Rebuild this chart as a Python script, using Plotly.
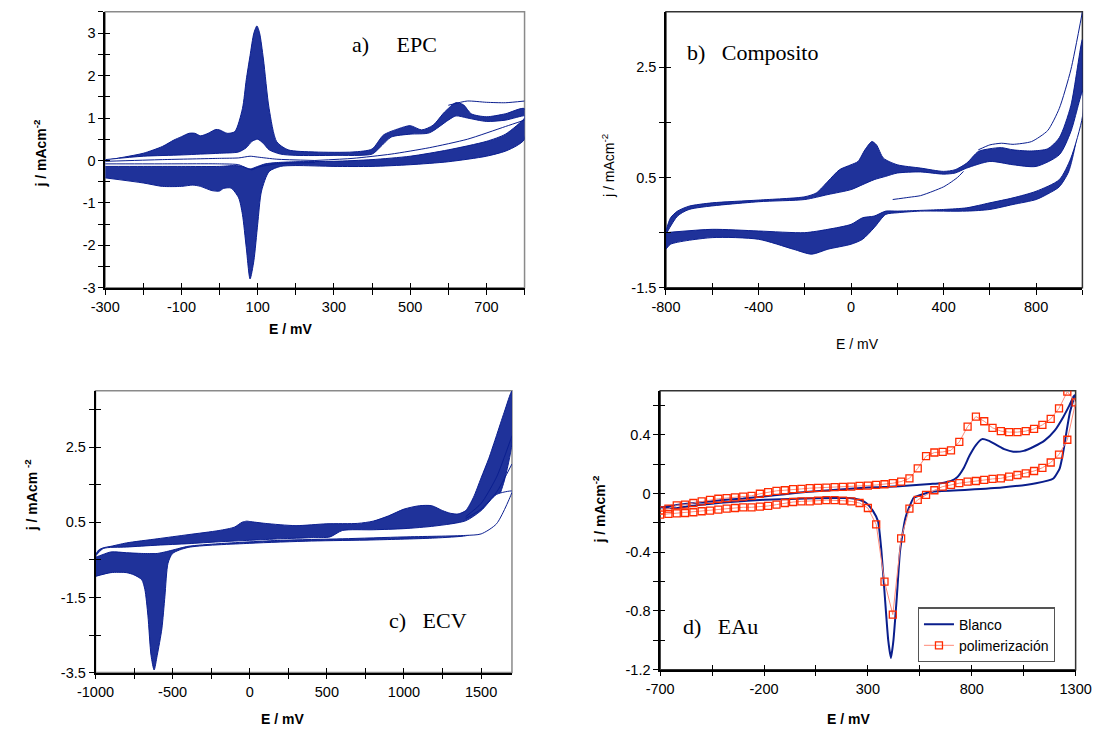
import plotly.graph_objects as go

W, H = 1111, 736
BLUE = '#0B1F8F'
BAND = 'rgba(14,34,146,0.93)'

# ---------------- Panel a (EPC) ----------------
a_out_fwd_E = [-300, -250, -200, -150, -120, -100, -80, -65, -50, -30, -10, 0, 20, 40, 60, 70, 80, 90, 98, 105, 115, 130, 150, 180, 250, 350, 400, 430, 470, 500, 530, 560, 590, 620, 640, 660, 700, 750, 800]
a_out_fwd_j = [0.0, 0.08, 0.17, 0.33, 0.48, 0.56, 0.64, 0.64, 0.58, 0.64, 0.73, 0.72, 0.64, 0.68, 1.22, 1.9, 2.47, 3.0, 3.17, 3.0, 2.39, 1.22, 0.44, 0.25, 0.2, 0.2, 0.27, 0.6, 0.75, 0.82, 0.72, 0.83, 1.14, 1.36, 1.31, 1.1, 1.03, 1.1, 1.22]
a_out_rev_E = [800, 780, 750, 700, 600, 500, 400, 300, 200, 160, 130, 110, 100, 90, 80, 70, 60, 50, 30, 10, 0, -20, -50, -70, -100, -150, -200, -300]
a_out_rev_j = [0.5, 0.35, 0.22, 0.1, -0.03, -0.1, -0.14, -0.14, -0.12, -0.14, -0.26, -0.72, -1.5, -2.36, -2.79, -2.05, -1.27, -0.88, -0.65, -0.66, -0.72, -0.71, -0.61, -0.58, -0.61, -0.61, -0.53, -0.41]
a_in_fwd_E = [-300, -200, -100, -50, 0, 50, 70, 85, 100, 115, 130, 160, 200, 300, 400, 420, 450, 500, 550, 600, 620, 650, 700, 750, 800]
a_in_fwd_j = [0.02, 0.1, 0.13, 0.15, 0.17, 0.2, 0.3, 0.45, 0.5, 0.4, 0.25, 0.15, 0.12, 0.12, 0.15, 0.3, 0.55, 0.62, 0.65, 0.95, 1.05, 1.0, 0.92, 0.95, 1.05]
a_in_rev_E = [800, 750, 700, 600, 500, 400, 300, 200, 150, 120, 100, 80, 60, 40, 0, -100, -200, -300]
a_in_rev_j = [1.0, 0.62, 0.45, 0.25, 0.1, 0.02, -0.02, -0.03, -0.05, -0.08, -0.14, -0.2, -0.14, -0.12, -0.14, -0.14, -0.14, -0.14]
a_first_E = [250, 350, 450, 550, 650, 750, 800]
a_first_j = [0.0, 0.05, 0.15, 0.3, 0.5, 0.8, 0.95]
a_top_E = [600, 650, 700, 750, 800]
a_top_j = [1.3, 1.4, 1.37, 1.36, 1.4]
a_c1_E = [-300, -150, 0, 50, 80, 100, 150, 250]
a_c1_j = [-0.02, 0.02, 0.05, 0.06, 0.1, 0.08, 0.03, 0.0]
a_c2_E = [-300, -150, 0, 50, 70, 85, 100, 150, 250]
a_c2_j = [-0.08, -0.08, -0.08, -0.1, -0.18, -0.22, -0.16, -0.08, -0.05]

# ---------------- Panel b (Composito) ----------------
b_out_fwd_E = [-800, -780, -750, -700, -600, -400, -200, -150, -100, -50, 0, 30, 60, 90, 110, 140, 200, 300, 400, 450, 500, 550, 600, 650, 700, 780, 850, 900, 950, 1000]
b_out_fwd_j = [-0.47, -0.23, -0.11, -0.02, 0.04, 0.09, 0.15, 0.22, 0.43, 0.64, 0.73, 0.79, 1.0, 1.15, 1.09, 0.85, 0.73, 0.67, 0.61, 0.64, 0.76, 0.97, 1.02, 1.04, 1.0, 0.98, 1.02, 1.22, 1.8, 3.0]
b_out_rev_E = [1000, 990, 970, 940, 900, 850, 800, 700, 600, 500, 300, 200, 150, 100, 50, 0, -100, -170, -250, -400, -600, -780, -800]
b_out_rev_j = [2.0, 1.75, 1.1, 0.6, 0.33, 0.2, 0.1, 0.01, -0.08, -0.11, -0.11, -0.14, -0.17, -0.41, -0.62, -0.71, -0.8, -0.89, -0.8, -0.62, -0.59, -0.71, -0.8]
b_in_fwd_E = [-800, -750, -700, -400, -200, -100, 0, 50, 100, 150, 200, 300, 400, 450, 500, 600, 700, 800, 900, 950, 1000]
b_in_fwd_j = [-0.53, -0.2, -0.08, 0.06, 0.1, 0.19, 0.28, 0.37, 0.46, 0.52, 0.58, 0.6, 0.56, 0.58, 0.67, 0.79, 0.73, 0.7, 0.91, 1.33, 2.05]
b_in_rev_E = [1000, 950, 900, 800, 700, 600, 500, 400, 200, 150, 100, 50, 0, -100, -200, -400, -600, -800]
b_in_rev_j = [1.6, 0.85, 0.46, 0.25, 0.13, 0.04, -0.05, -0.08, -0.11, -0.11, -0.2, -0.23, -0.35, -0.44, -0.5, -0.47, -0.44, -0.5]
b_top_E = [550, 600, 650, 700, 780, 850, 900, 950, 1000]
b_top_j = [1.0, 1.09, 1.12, 1.1, 1.15, 1.35, 1.75, 2.45, 3.5]
b_first_E = [180, 250, 300, 354, 400, 427, 460, 486]
b_first_j = [0.1, 0.14, 0.17, 0.25, 0.33, 0.4, 0.5, 0.61]

# ---------------- Panel c (ECV) ----------------
c_out_fwd_E = [-1000, -980, -950, -900, -800, -600, -400, -200, -100, -50, -20, 0, 100, 300, 500, 700, 800, 900, 1000, 1100, 1180, 1250, 1300, 1350, 1400, 1450, 1500, 1550, 1600, 1650, 1700]
c_out_fwd_j = [-0.37, -0.24, -0.18, -0.14, -0.05, 0.06, 0.17, 0.28, 0.37, 0.5, 0.53, 0.52, 0.47, 0.41, 0.46, 0.47, 0.53, 0.67, 0.85, 0.94, 0.94, 0.81, 0.74, 0.72, 0.81, 1.16, 1.68, 2.2, 2.81, 3.43, 3.99]
c_out_rev_E = [1700, 1650, 1600, 1550, 1500, 1450, 1400, 1200, 800, 400, 0, -400, -500, -530, -550, -570, -600, -620, -640, -660, -680, -700, -750, -800, -900, -1000]
c_out_rev_j = [2.6, 1.6, 1.0, 0.6, 0.35, 0.2, 0.14, 0.08, 0.03, 0.0, -0.06, -0.17, -0.33, -0.59, -1.47, -2.34, -3.04, -3.43, -3.04, -1.99, -1.29, -1.03, -0.9, -0.84, -0.84, -0.94]
c_in_fwd_E = [-1000, -950, -800, -600, -400, -200, 0, 200, 400, 520, 600, 800, 1000, 1200, 1400, 1500, 1600, 1700]
c_in_fwd_j = [-0.42, -0.2, -0.16, -0.11, -0.07, -0.02, 0.02, 0.06, 0.09, 0.11, 0.28, 0.3, 0.33, 0.4, 0.54, 0.81, 1.24, 1.33]
c_in_rev_E = [1700, 1600, 1500, 1400, 1000, 600, 200, -200, -400, -500, -550, -600, -700, -800, -900, -1000]
c_in_rev_j = [1.3, 0.46, 0.19, 0.15, 0.11, 0.06, 0.02, -0.07, -0.14, -0.24, -0.29, -0.33, -0.33, -0.31, -0.29, -0.42]
c_fan_E = [1400, 1500, 1600, 1700]
c_fan1_j = [0.6, 0.85, 1.3, 2.05]
c_fan2_j = [0.65, 1.0, 1.7, 2.8]

# ---------------- Panel d (EAu) ----------------
d_bl_E = [-700, -600, -500, -400, -300, -200, -100, 0, 100, 200, 300, 400, 500, 600, 650, 700, 730, 760, 790, 820, 850, 880, 920, 960, 1000, 1050, 1100, 1150, 1200, 1240, 1270, 1290, 1295,
          1272, 1256, 1240, 1223, 1191, 1109, 945, 782, 619, 553, 520, 504, 480, 455, 439, 423, 411, 398, 382, 365, 349, 325, 292, 259, 210, 128, -35, -198, -362, -525, -623, -700]
d_bl_j = [-0.095, -0.075, -0.06, -0.045, -0.035, -0.02, -0.005, 0.01, 0.02, 0.03, 0.04, 0.045, 0.055, 0.065, 0.07, 0.085, 0.11, 0.17, 0.26, 0.33, 0.37, 0.36, 0.33, 0.3, 0.285, 0.29, 0.32, 0.36, 0.43, 0.52, 0.6, 0.66, 0.67,
          0.55, 0.42, 0.28, 0.17, 0.1, 0.07, 0.04, 0.025, 0.013, -0.01, -0.03, -0.076, -0.17, -0.39, -0.71, -1.0, -1.12, -1.0, -0.71, -0.39, -0.19, -0.12, -0.065, -0.043, -0.031, -0.031, -0.036, -0.043, -0.058, -0.08, -0.1, -0.094]
d_pol_fwd_E = list(range(-700, 1301, 40))
d_pol_fwd_j = [-0.115, -0.103, -0.081, -0.076, -0.065, -0.054, -0.043, -0.036, -0.031, -0.027, -0.022, -0.016, -0.002, 0.009, 0.018, 0.022, 0.029, 0.031, 0.036, 0.038,
               0.040, 0.043, 0.045, 0.047, 0.052, 0.054, 0.058, 0.063, 0.07, 0.081, 0.103, 0.171, 0.254, 0.279, 0.283, 0.294, 0.351, 0.456, 0.524, 0.492,
               0.447, 0.425, 0.418, 0.418, 0.425, 0.44, 0.467, 0.508, 0.58, 0.694, 0.62]
d_pol_rev_E = list(range(1260, -701, -40))
d_pol_rev_j = [0.366, 0.265, 0.211, 0.175, 0.153, 0.137, 0.126, 0.115, 0.103, 0.099, 0.092, 0.085, 0.081, 0.07, 0.058, 0.047, 0.022, -0.009, -0.043, -0.103,
               -0.306, -0.825, -0.6, -0.211, -0.099, -0.065, -0.054, -0.049, -0.045, -0.045, -0.049, -0.054, -0.054, -0.058, -0.065, -0.076, -0.085, -0.09, -0.094, -0.094,
               -0.099, -0.103, -0.11, -0.117, -0.121, -0.128, -0.133, -0.135, -0.139, -0.144]

# tick positions and labelled ticks
a_xticks = list(range(-300, 801, 100));  a_xlabels = [-300, -100, 100, 300, 500, 700]
a_yticks = [-3 + 0.5 * i for i in range(14)];  a_ylabels = [-3, -2, -1, 0, 1, 2, 3]
b_xticks = list(range(-800, 1001, 200));  b_xlabels = [-800, -400, 0, 400, 800]
b_yticks = [-1.5, -0.5, 0.5, 1.5, 2.5];  b_ylabels = [-1.5, 0.5, 2.5]
c_xticks = list(range(-1000, 1701, 250));  c_xlabels = [-1000, -500, 0, 500, 1000, 1500]
c_yticks = [-3.5 + i for i in range(8)];  c_ylabels = [-3.5, -1.5, 0.5, 2.5]
d_xticks = list(range(-700, 1301, 250));  d_xlabels = [-700, -200, 300, 800, 1300]
d_yticks = [round(-1.2 + 0.2 * i, 1) for i in range(10)];  d_ylabels = [-1.2, -0.8, -0.4, 0, 0.4]

# ---------------- layout boxes (px) ----------------
boxes = {
    1: dict(x0=89, x1=522, y0=12, y1=291),
    2: dict(x0=668, x1=1098, y0=12, y1=291),
    3: dict(x0=79, x1=509, y0=395, y1=680),
    4: dict(x0=662, x1=1091, y0=395, y1=677),
}
xr = {1: [-300, 800], 2: [-800, 1000], 3: [-1000, 1700], 4: [-700, 1300]}
yr = {1: [-3, 3.5], 2: [-1.5, 3.5], 3: [-3.5, 4.0], 4: [-1.2, 0.7]}
xt = {1: (a_xticks, a_xlabels), 2: (b_xticks, b_xlabels), 3: (c_xticks, c_xlabels), 4: (d_xticks, d_xlabels)}
yt = {1: (a_yticks, a_ylabels), 2: (b_yticks, b_ylabels), 3: (c_yticks, c_ylabels), 4: (d_yticks, d_ylabels)}

fig = go.Figure()

def ax(i):
    return ('x' if i == 1 else 'x%d' % i), ('y' if i == 1 else 'y%d' % i)

def loop(i, fE, fj, rE, rj, fill):
    xa, ya = ax(i)
    fig.add_trace(go.Scatter(x=fE + rE, y=fj + rj, mode='lines', fill='toself', fillcolor=fill,
                             line=dict(color=BLUE, width=1, shape='spline', smoothing=0.7),
                             xaxis=xa, yaxis=ya, showlegend=False, hoverinfo='skip'))

def line(i, E, j, w=1):
    xa, ya = ax(i)
    fig.add_trace(go.Scatter(x=E, y=j, mode='lines', line=dict(color=BLUE, width=w, shape='spline', smoothing=0.6),
                             xaxis=xa, yaxis=ya, showlegend=False, hoverinfo='skip'))

# panel a
loop(1, a_out_fwd_E, a_out_fwd_j, a_out_rev_E, a_out_rev_j, BAND)
loop(1, a_in_fwd_E, a_in_fwd_j, a_in_rev_E, a_in_rev_j, 'white')
for E, j in [(a_first_E, a_first_j), (a_top_E, a_top_j), (a_c1_E, a_c1_j), (a_c2_E, a_c2_j)]:
    line(1, E, j)
# panel b
loop(2, b_out_fwd_E, b_out_fwd_j, b_out_rev_E, b_out_rev_j, BAND)
loop(2, b_in_fwd_E, b_in_fwd_j, b_in_rev_E, b_in_rev_j, 'white')
for E, j in [(b_top_E, b_top_j), (b_first_E, b_first_j)]:
    line(2, E, j)
# panel c
loop(3, c_out_fwd_E, c_out_fwd_j, c_out_rev_E, c_out_rev_j, BAND)
loop(3, c_in_fwd_E, c_in_fwd_j, c_in_rev_E, c_in_rev_j, 'white')
for E, j in [(c_fan_E, c_fan1_j), (c_fan_E, c_fan2_j)]:
    line(3, E, j)
# panel d
fig.add_trace(go.Scatter(x=d_bl_E, y=d_bl_j, mode='lines', name='Blanco',
                         line=dict(color='#0A1E8C', width=2, shape='spline', smoothing=0.5),
                         xaxis='x4', yaxis='y4'))
fig.add_trace(go.Scatter(x=d_pol_fwd_E + d_pol_rev_E, y=d_pol_fwd_j + d_pol_rev_j, mode='lines+markers', name='polimerización',
                         line=dict(color='#FF8A78', width=1),
                         marker=dict(symbol='square-open', size=7, color='#FF2A00', line=dict(width=1.3, color='#FF2A00')),
                         xaxis='x4', yaxis='y4'))

TF = dict(size=14.5, family='Arial, Liberation Sans, sans-serif', color='black')
lay = dict(width=W, height=H, margin=dict(l=0, r=0, t=0, b=0), plot_bgcolor='white', paper_bgcolor='white',
           font=dict(family='Arial, Liberation Sans, sans-serif', size=14, color='black'), shapes=[], annotations=[])

def fmt(v):
    return '%g' % v

for i in range(1, 5):
    b = boxes[i]
    xd = [b['x0'] / W, b['x1'] / W]
    yd = [1 - b['y1'] / H, 1 - b['y0'] / H]
    xk = 'xaxis' if i == 1 else 'xaxis%d' % i
    yk = 'yaxis' if i == 1 else 'yaxis%d' % i
    xa, ya = ax(i)
    common = dict(showgrid=False, zeroline=False, showline=True, linecolor='black', linewidth=1.5,
                  ticks='outside', ticklen=5, tickwidth=1, tickcolor='black', tickmode='array',
                  tickfont=TF, ticklabeloverflow='allow')
    lay[xk] = dict(domain=xd, range=xr[i], anchor=ya, tickvals=xt[i][1], ticktext=[fmt(v) for v in xt[i][1]],
                   minor=dict(tickmode='array', tickvals=xt[i][0], ticks='outside', ticklen=5, tickwidth=1,
                              tickcolor='black', showgrid=False), **common)
    lay[yk] = dict(domain=yd, range=yr[i], anchor=xa, tickvals=yt[i][1], ticktext=[fmt(v) for v in yt[i][1]],
                   minor=dict(tickmode='array', tickvals=yt[i][0], ticks='outside', ticklen=5, tickwidth=1,
                              tickcolor='black', showgrid=False), **common)
    ox = 'xaxis%d' % (i + 4)
    oy = 'yaxis%d' % (i + 4)
    lay[ox] = dict(overlaying=xa, anchor=ya, range=xr[i], showgrid=False, zeroline=False, showline=False,
                   ticks='inside', ticklen=5, tickwidth=1, tickcolor='black', tickmode='array',
                   tickvals=xt[i][0], showticklabels=False)
    lay[oy] = dict(overlaying=ya, anchor=xa, range=yr[i], showgrid=False, zeroline=False, showline=False,
                   ticks='inside', ticklen=5, tickwidth=1, tickcolor='black', tickmode='array',
                   tickvals=yt[i][0], showticklabels=False)
    fig.add_trace(go.Scatter(x=[None], y=[None], xaxis='x%d' % (i + 4), yaxis=ya, showlegend=False, hoverinfo='skip'))
    fig.add_trace(go.Scatter(x=[None], y=[None], xaxis=xa, yaxis='y%d' % (i + 4), showlegend=False, hoverinfo='skip'))
    bc = '#8a8a8a' if i in (1, 3) else '#333333'
    lay['shapes'].append(dict(type='rect', xref='paper', yref='paper', x0=xd[0], x1=xd[1], y0=yd[0], y1=yd[1],
                              line=dict(color=bc, width=1.5), layer='below'))

def ann(text, px, py, size=14, bold=False, angle=0, serif=False, xanchor='center'):
    fam = 'Times New Roman, Liberation Serif, serif' if serif else 'Arial, Liberation Sans, sans-serif'
    t = '<b>%s</b>' % text if bold else text
    lay['annotations'].append(dict(text=t, x=px / W, y=1 - py / H, xref='paper', yref='paper', showarrow=False,
                                   textangle=angle, xanchor=xanchor, yanchor='middle',
                                   font=dict(family=fam, size=size, color='black')))

ann('E / mV', 280, 333, bold=True)
ann('j / mAcm<sup>-2</sup>', 22, 155, bold=True, angle=-90)
ann('E / mV', 866, 348)
ann('j / mAcm<sup>-2</sup>', 608, 168, angle=-90)
ann('E / mV', 272, 727, bold=True)
ann('j / mAcm <sup>-2</sup>', 12, 500, bold=True, angle=-90)
ann('E / mV', 856, 727, bold=True)
ann('j / mAcm<sup>-2</sup>', 599, 515, bold=True, angle=-90)

ann('a)&nbsp;&nbsp;&nbsp;&nbsp;&nbsp;EPC', 342, 45, size=22, serif=True, xanchor='left')
ann('b)&nbsp;&nbsp;&nbsp;Composito', 688, 53, size=22, serif=True, xanchor='left')
ann('c)&nbsp;&nbsp;&nbsp;ECV', 380, 627, size=22, serif=True, xanchor='left')
ann('d)&nbsp;&nbsp;&nbsp;EAu', 684, 633, size=22, serif=True, xanchor='left')

lay['legend'] = dict(x=928 / W, y=1 - 614 / H, xanchor='left', yanchor='top', bgcolor='white',
                     bordercolor='#555555', borderwidth=1.2, font=dict(size=14, family='Arial, Liberation Sans, sans-serif'),
                     tracegroupgap=0, itemwidth=30)
lay['showlegend'] = True
fig.update_layout(**lay)
fig.write_html('out.html', config={'displayModeBar': False},
               post_script="document.body.style.margin='0px';")
